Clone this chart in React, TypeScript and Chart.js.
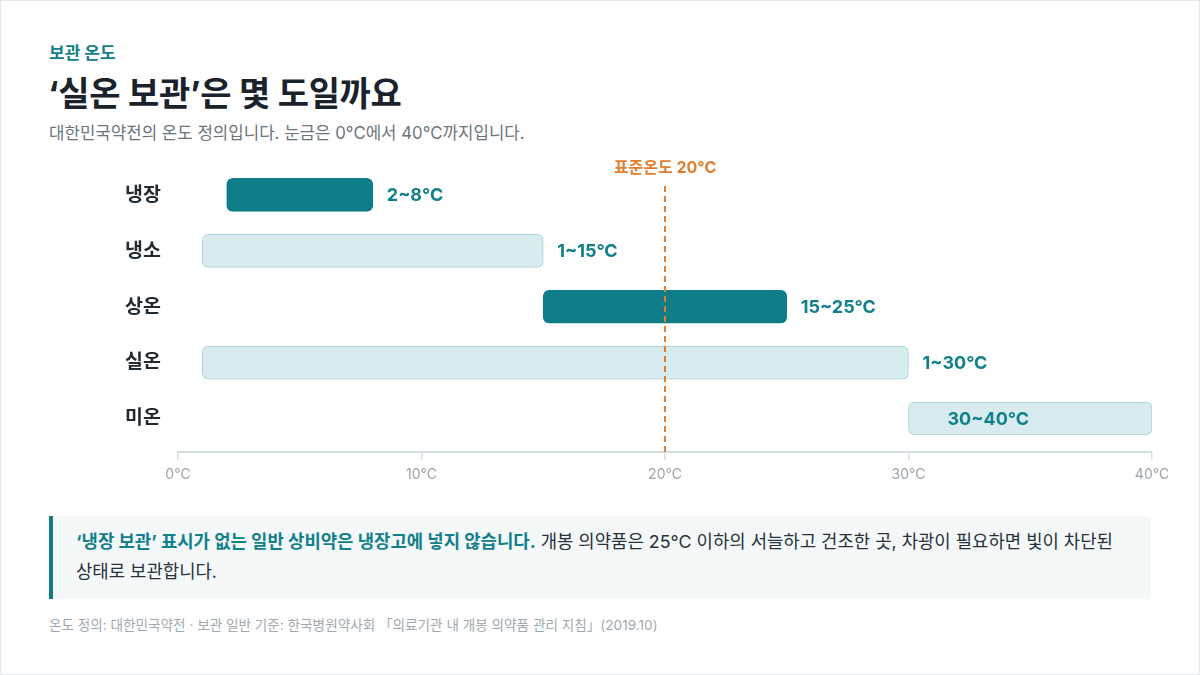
import React, { useEffect, useRef } from "react";
import { Chart, registerables } from "chart.js";

Chart.register(...registerables);

const categories = ["냉장", "냉소", "상온", "실온", "미온"];
const lows = [2, 1, 15, 1, 30];
const highs = [8, 15, 25, 30, 40];
const highlighted = [true, false, true, false, false];
const xTicks = [0, 10, 20, 30, 40];
const standardTemp = 20;

const FONT = 'Inter, "Noto Sans CJK KR", sans-serif';
const TEAL = "#0e7d87";
const TEAL_TEXT = "#12808a";
const LIGHT = "#d8ecf0";
const LIGHT_BORDER = "#a9d3da";
const ORANGE = "#e0802f";

const overlayPlugin = {
  id: "overlay",
  afterDatasetsDraw(chart: any) {
    const { ctx, chartArea, scales } = chart;
    // 표준온도 기준선
    const x20 = scales.x.getPixelForValue(standardTemp);
    ctx.save();
    ctx.strokeStyle = ORANGE;
    ctx.lineWidth = 2;
    ctx.setLineDash([6, 4]);
    ctx.beginPath();
    ctx.moveTo(x20, chartArea.top + 19);
    ctx.lineTo(x20, chartArea.bottom);
    ctx.stroke();
    ctx.setLineDash([]);
    ctx.fillStyle = ORANGE;
    ctx.font = `bold 16px ${FONT}`;
    ctx.textAlign = "center";
    ctx.textBaseline = "middle";
    ctx.fillText(`표준온도 ${standardTemp}°C`, x20, chartArea.top + 1);

    // 범위 라벨
    const meta = chart.getDatasetMeta(0);
    ctx.font = `bold 18px ${FONT}`;
    ctx.fillStyle = TEAL_TEXT;
    ctx.textAlign = "left";
    meta.data.forEach((bar: any, i: number) => {
      const text = `${lows[i]}~${highs[i]}°C`;
      const w = ctx.measureText(text).width;
      let tx = bar.x + 14;
      if (tx + w > chartArea.right) tx = bar.base + 39;
      ctx.fillText(text, tx, bar.y + 1);
    });
    ctx.restore();
  },
};

const RangeChart = () => {
  const canvasRef = useRef<HTMLCanvasElement>(null);

  useEffect(() => {
    if (!canvasRef.current) return;
    const chart = new Chart(canvasRef.current, {
      type: "bar",
      data: {
        datasets: [
          {
            data: categories.map((_, i) => ({ x: [lows[i], highs[i]], y: i })) as any,
            backgroundColor: highlighted.map((h) => (h ? TEAL : LIGHT)),
            borderColor: highlighted.map((h) => (h ? TEAL : LIGHT_BORDER)),
            borderWidth: 1,
            borderRadius: 6,
            borderSkipped: false,
            barThickness: 33,
          },
        ],
      },
      options: {
        indexAxis: "y",
        responsive: true,
        maintainAspectRatio: false,
        animation: false,
        layout: { padding: { top: 16, right: 49, bottom: 0, left: 0 } },
        plugins: { legend: { display: false }, tooltip: { enabled: false } },
        scales: {
          x: {
            type: "linear",
            min: 0,
            max: 40,
            afterBuildTicks: (scale: any) => {
              scale.ticks = xTicks.map((v) => ({ value: v }));
            },
            afterFit: (scale: any) => {
              scale.height = 40;
            },
            grid: {
              drawOnChartArea: false,
              drawTicks: true,
              tickLength: 8,
              color: "#d6dfe4",
              lineWidth: 1.5,
            },
            border: { display: true, color: "#d6dfe4", width: 2 },
            ticks: {
              color: "#9ba5ac",
              font: { family: FONT, size: 14 },
              padding: 6,
              callback: (v: any) => `${v}°C`,
            },
          },
          y: {
            type: "linear",
            reverse: true,
            offset: false,
            min: -0.5,
            max: 4.6,
            afterBuildTicks: (scale: any) => {
              scale.ticks = categories.map((_, i) => ({ value: i }));
            },
            afterFit: (scale: any) => {
              scale.width = 53;
            },
            grid: { display: false, offset: false },
            border: { display: false },
            ticks: {
              autoSkip: false,
              crossAlign: "far",
              color: "#1f2a33",
              font: { family: FONT, size: 19.5, weight: "bold" },
              callback: (v: any) => categories[v] ?? "",
            },
          },
        },
      },
      plugins: [overlayPlugin],
    });
    return () => {
      chart.destroy();
    };
  }, []);

  return (
    <div style={{ position: "absolute", left: 124, top: 150, width: 1076, height: 341 }}>
      <canvas ref={canvasRef} />
    </div>
  );
};

const App = () => {
  return (
    <div
      style={{
        position: "absolute",
        left: 0,
        top: 0,
        width: 1200,
        height: 675,
        boxSizing: "border-box",
        border: "1px solid #e4e8eb",
        background: "#fff",
        fontFamily: FONT,
        overflow: "hidden",
      }}
    >
      <div style={{ position: "absolute", left: 48, top: 38, fontSize: 17, fontWeight: 700, color: TEAL_TEXT }}>
        보관 온도
      </div>
      <div
        style={{
          position: "absolute",
          left: 47,
          top: 66,
          fontSize: 34,
          fontWeight: 700,
          color: "#1a232b",
          letterSpacing: -0.3,
        }}
      >
        ‘실온 보관’은 몇 도일까요
      </div>
      <div style={{ position: "absolute", left: 48, top: 119, fontSize: 16.8, color: "#6b757d" }}>
        대한민국약전의 온도 정의입니다. 눈금은 0°C에서 40°C까지입니다.
      </div>

      <RangeChart />

      <div
        style={{
          position: "absolute",
          left: 48,
          top: 515,
          width: 1102,
          height: 83,
          boxSizing: "border-box",
          background: "#f4f8f9",
          borderLeft: `4px solid ${TEAL}`,
          borderRadius: "0 6px 6px 0",
          padding: "11px 20px 0 23px",
          fontSize: 17.8,
          lineHeight: "30px",
          color: "#26313a",
        }}
      >
        <span style={{ fontWeight: 700, color: TEAL_TEXT }}>
          ‘냉장 보관’ 표시가 없는 일반 상비약은 냉장고에 넣지 않습니다.
        </span>{" "}
        개봉 의약품은 25°C 이하의 서늘하고 건조한 곳, 차광이 필요하면 빛이 차단된 상태로 보관합니다.
      </div>

      <div style={{ position: "absolute", left: 48, top: 613, fontSize: 13.6, color: "#a0a9af" }}>
        온도 정의: 대한민국약전 · 보관 일반 기준: 한국병원약사회 「의료기관 내 개봉 의약품 관리 지침」(2019.10)
      </div>
    </div>
  );
};

export default App;
